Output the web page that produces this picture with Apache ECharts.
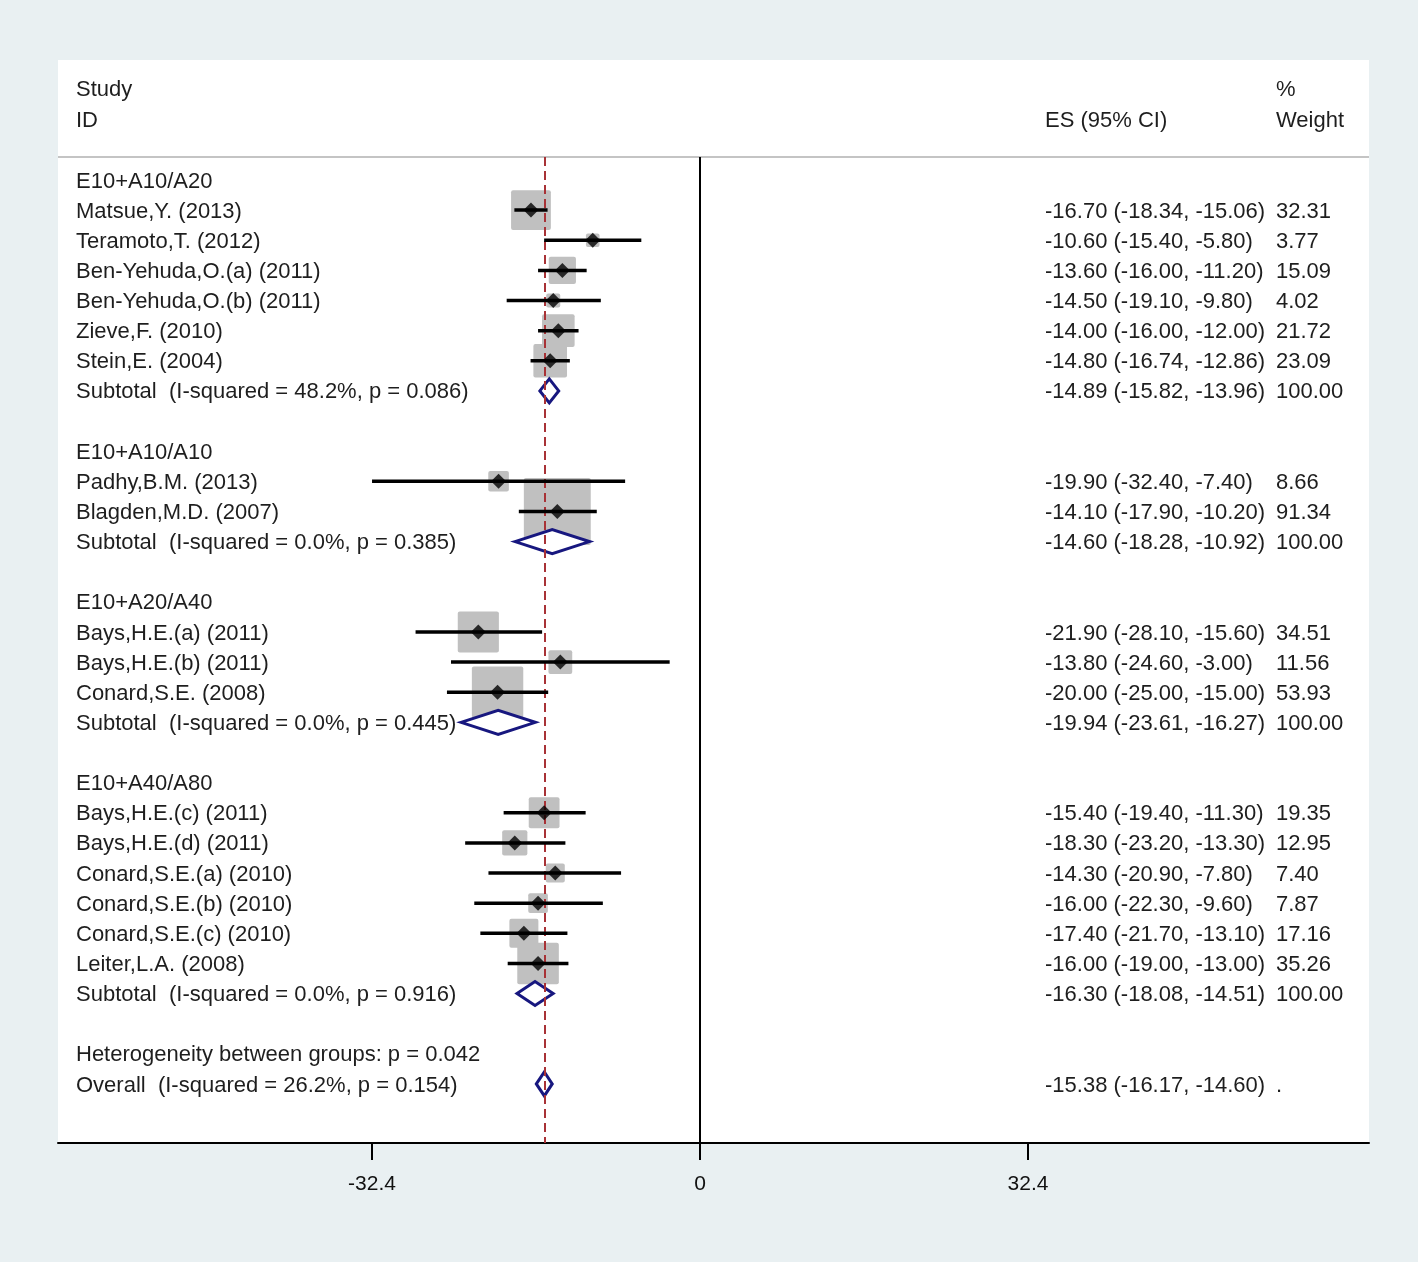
<!DOCTYPE html>
<html>
<head>
<meta charset="utf-8">
<script src="https://cdn.jsdelivr.net/npm/echarts@6/dist/echarts.min.js"></script>
<style>
html,body{margin:0;padding:0;background:#e9f0f2;}
#chart{width:1418px;height:1262px;}
</style>
</head>
<body>
<div id="chart"></div>
<script>
// ---- data (one entry per row of the forest plot) ----
const rowLabels = [
  "E10+A10/A20",
  "Matsue,Y. (2013)",
  "Teramoto,T. (2012)",
  "Ben-Yehuda,O.(a) (2011)",
  "Ben-Yehuda,O.(b) (2011)",
  "Zieve,F. (2010)",
  "Stein,E. (2004)",
  "Subtotal  (I-squared = 48.2%, p = 0.086)",
  "",
  "E10+A10/A10",
  "Padhy,B.M. (2013)",
  "Blagden,M.D. (2007)",
  "Subtotal  (I-squared = 0.0%, p = 0.385)",
  "",
  "E10+A20/A40",
  "Bays,H.E.(a) (2011)",
  "Bays,H.E.(b) (2011)",
  "Conard,S.E. (2008)",
  "Subtotal  (I-squared = 0.0%, p = 0.445)",
  "",
  "E10+A40/A80",
  "Bays,H.E.(c) (2011)",
  "Bays,H.E.(d) (2011)",
  "Conard,S.E.(a) (2010)",
  "Conard,S.E.(b) (2010)",
  "Conard,S.E.(c) (2010)",
  "Leiter,L.A. (2008)",
  "Subtotal  (I-squared = 0.0%, p = 0.916)",
  "",
  "Heterogeneity between groups: p = 0.042",
  "Overall  (I-squared = 26.2%, p = 0.154)"
];
const rowKinds = [
  "group","study","study","study","study","study","study","subtotal","blank",
  "group","study","study","subtotal","blank",
  "group","study","study","study","subtotal","blank",
  "group","study","study","study","study","study","study","subtotal","blank",
  "note","overall"
];
const esValues = [null,-16.70,-10.60,-13.60,-14.50,-14.00,-14.80,-14.89,null,
  null,-19.90,-14.10,-14.60,null,
  null,-21.90,-13.80,-20.00,-19.94,null,
  null,-15.40,-18.30,-14.30,-16.00,-17.40,-16.00,-16.30,null,
  null,-15.38];
const ciLow = [null,-18.34,-15.40,-16.00,-19.10,-16.00,-16.74,-15.82,null,
  null,-32.40,-17.90,-18.28,null,
  null,-28.10,-24.60,-25.00,-23.61,null,
  null,-19.40,-23.20,-20.90,-22.30,-21.70,-19.00,-18.08,null,
  null,-16.17];
const ciHigh = [null,-15.06,-5.80,-11.20,-9.80,-12.00,-12.86,-13.96,null,
  null,-7.40,-10.20,-10.92,null,
  null,-15.60,-3.00,-15.00,-16.27,null,
  null,-11.30,-13.30,-7.80,-9.60,-13.10,-13.00,-14.51,null,
  null,-14.60];
const weights = [null,32.31,3.77,15.09,4.02,21.72,23.09,100.00,null,
  null,8.66,91.34,100.00,null,
  null,34.51,11.56,53.93,100.00,null,
  null,19.35,12.95,7.40,7.87,17.16,35.26,100.00,null,
  null,null];
const overallES = -15.38;
const tickValues = [-32.4, 0, 32.4];

// ---- derived data for series ----
const idx = rowLabels.map((_, i) => i);
const studyRows = idx.filter(i => rowKinds[i] === "study");
const pooledRows = idx.filter(i => rowKinds[i] === "subtotal" || rowKinds[i] === "overall");

const FONT = '22px "Liberation Sans", Arial, sans-serif';
const TXT = '#1e1e1e';
const X_LABEL = 76, X_ES = 1045, X_W = 1276;
const TEXT_DY = 1.5;
const BOX_K = 7.0;

const chart = echarts.init(document.getElementById('chart'), null, {renderer: 'canvas'});

const option = {
  backgroundColor: '#e9f0f2',
  animation: false,
  graphic: [
    {type: 'rect', z: 0, shape: {x: 58, y: 60, width: 1311, height: 1083}, style: {fill: '#ffffff'}},
    {type: 'line', z: 1, shape: {x1: 58, y1: 157, x2: 1369, y2: 157}, style: {stroke: '#c4c4c4', lineWidth: 2}},
    {type: 'text', z: 5, x: X_LABEL, y: 88 + TEXT_DY, style: {text: 'Study', font: FONT, fill: TXT, textVerticalAlign: 'middle'}},
    {type: 'text', z: 5, x: X_LABEL, y: 119 + TEXT_DY, style: {text: 'ID', font: FONT, fill: TXT, textVerticalAlign: 'middle'}},
    {type: 'text', z: 5, x: X_ES, y: 119 + TEXT_DY, style: {text: 'ES (95% CI)', font: FONT, fill: TXT, textVerticalAlign: 'middle'}},
    {type: 'text', z: 5, x: X_W, y: 88 + TEXT_DY, style: {text: '%', font: FONT, fill: TXT, textVerticalAlign: 'middle'}},
    {type: 'text', z: 5, x: X_W, y: 119 + TEXT_DY, style: {text: 'Weight', font: FONT, fill: TXT, textVerticalAlign: 'middle'}}
  ],
  grid: {left: 58, right: 49, top: 157, bottom: 119, containLabel: false},
  xAxis: {
    type: 'value',
    min: -63.42, max: 66.08,
    splitLine: {show: false},
    axisLine: {show: true, onZero: false, lineStyle: {color: '#000', width: 2}},
    axisTick: {show: true, length: 17, lineStyle: {color: '#000', width: 2}, customValues: tickValues},
    axisLabel: {show: true, margin: 31, color: '#111', fontSize: 21, fontFamily: '"Liberation Sans", Arial, sans-serif', customValues: tickValues,
      formatter: v => String(v)}
  },
  yAxis: {
    type: 'value', inverse: true,
    min: -0.763, max: 31.96,
    show: false
  },
  series: [
    // reference lines
    {
      type: 'scatter', z: 2, data: [], silent: true,
      markLine: {
        silent: true, symbol: 'none', label: {show: false}, animation: false,
        data: [
          {xAxis: 0, lineStyle: {color: '#000', width: 2, type: 'solid'}},
          {xAxis: overallES, lineStyle: {color: '#a83236', width: 2, type: [9, 5]}}
        ]
      }
    },
    // weight boxes
    {
      type: 'custom', z: 3, silent: true,
      data: studyRows.map(i => [esValues[i], i, weights[i]]),
      encode: {x: 0, y: 1},
      renderItem: (params, api) => {
        const c = api.coord([api.value(0), api.value(1)]);
        const s = BOX_K * Math.sqrt(api.value(2));
        return {
          type: 'rect',
          shape: {x: c[0] - s / 2, y: c[1] - s / 2, width: s, height: s, r: 2},
          style: {fill: '#c0c0c0'}
        };
      }
    },
    // pooled diamonds
    {
      type: 'custom', z: 4, silent: true,
      data: pooledRows.map(i => [esValues[i], i, ciLow[i], ciHigh[i], rowKinds[i] === 'overall' ? 1 : 0]),
      encode: {x: 0, y: 1},
      renderItem: (params, api) => {
        const c = api.coord([api.value(0), api.value(1)]);
        const lo = api.coord([api.value(2), api.value(1)]);
        const hi = api.coord([api.value(3), api.value(1)]);
        const h = 12;
        return {
          type: 'polygon',
          shape: {points: [[lo[0], c[1]], [c[0], c[1] - h], [hi[0], c[1]], [c[0], c[1] + h]]},
          style: {fill: api.value(4) ? 'none' : '#ffffff', stroke: '#17177f', lineWidth: 3, lineJoin: 'miter'}
        };
      }
    },
    // confidence intervals
    {
      type: 'custom', z: 5, silent: true,
      data: studyRows.map(i => [esValues[i], i, ciLow[i], ciHigh[i]]),
      encode: {x: 0, y: 1},
      renderItem: (params, api) => {
        const lo = api.coord([api.value(2), api.value(1)]);
        const hi = api.coord([api.value(3), api.value(1)]);
        return {
          type: 'line',
          shape: {x1: lo[0], y1: lo[1], x2: hi[0], y2: hi[1]},
          style: {stroke: '#000', lineWidth: 3.5}
        };
      }
    },
    // point estimates
    {
      type: 'scatter', z: 6, silent: true,
      symbol: 'diamond', symbolSize: 15,
      itemStyle: {color: '#000'},
      data: studyRows.map(i => [esValues[i], i])
    },
    // text columns
    {
      type: 'custom', z: 7, silent: true, clip: false,
      data: idx.map(i => [0, i]),
      encode: {x: 0, y: 1},
      renderItem: (params, api) => {
        const i = api.value(1);
        const y = api.coord([0, i])[1] + TEXT_DY;
        const children = [];
        if (rowLabels[i]) {
          children.push({type: 'text', x: X_LABEL, y: y,
            style: {text: rowLabels[i], font: FONT, fill: TXT, textVerticalAlign: 'middle'}});
        }
        if (esValues[i] !== null) {
          const es = esValues[i].toFixed(2) + ' (' + ciLow[i].toFixed(2) + ', ' + ciHigh[i].toFixed(2) + ')';
          children.push({type: 'text', x: X_ES, y: y,
            style: {text: es, font: FONT, fill: TXT, textVerticalAlign: 'middle'}});
          children.push({type: 'text', x: X_W, y: y,
            style: {text: weights[i] !== null ? weights[i].toFixed(2) : '.', font: FONT, fill: TXT, textVerticalAlign: 'middle'}});
        }
        return {type: 'group', children: children};
      }
    }
  ]
};
chart.setOption(option);
</script>
</body>
</html>
